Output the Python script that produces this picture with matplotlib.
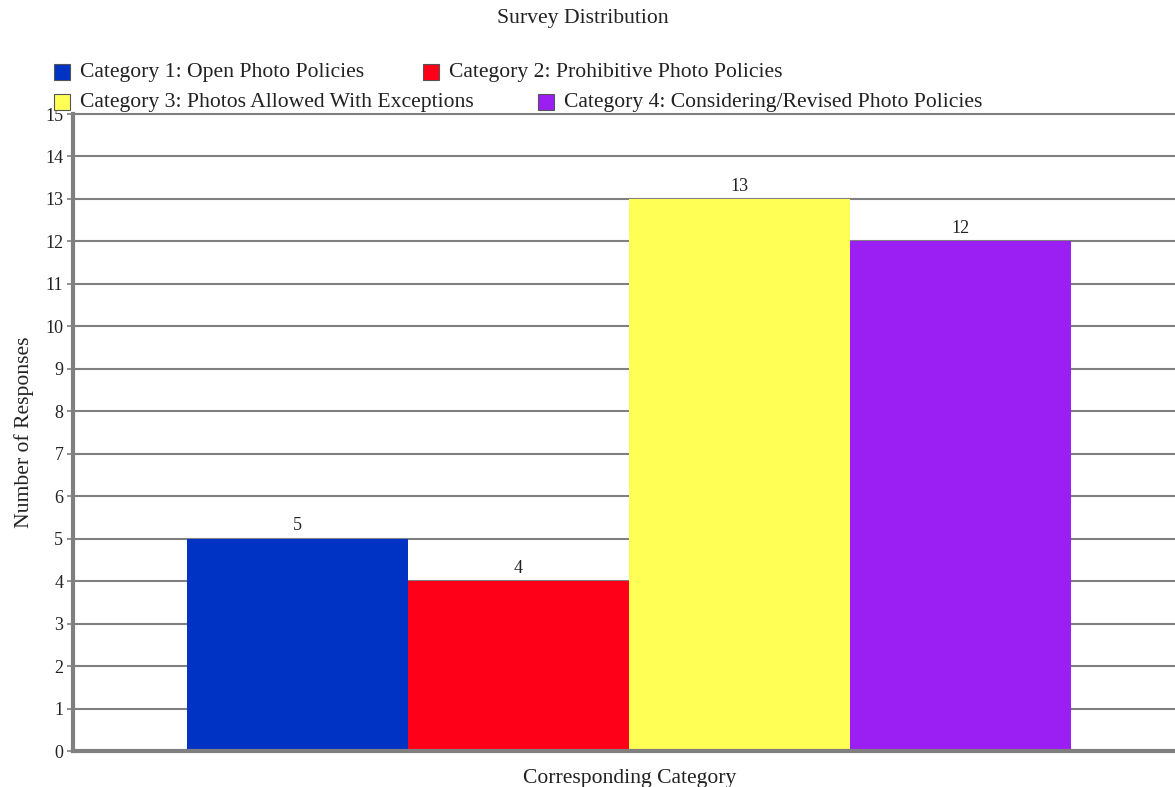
import matplotlib.pyplot as plt
from matplotlib.patches import Rectangle

# data
categories = ["Category 1: Open Photo Policies",
              "Category 2: Prohibitive Photo Policies",
              "Category 3: Photos Allowed With Exceptions",
              "Category 4: Considering/Revised Photo Policies"]
responses = [5, 4, 13, 12]
colors = ["#0033c4", "#ff0019", "#ffff55", "#9b1ff2"]
yticks = list(range(0, 16))

plt.rcParams["font.family"] = ["Liberation Serif", "DejaVu Serif"]
TXT = 15.6   # words
NUM = 13     # numbers
INK = "#222222"

W, H = 1175, 787
fig = plt.figure(figsize=(W / 100, H / 100), dpi=100)
ax = fig.add_axes([73 / W, 1 - 751 / H, 1 - 73 / W, (751 - 114) / H])

xs = range(len(responses))
bars = ax.bar(xs, responses, width=1.0, color=colors, zorder=2)
for x, v in zip(xs, responses):
    ax.text(x, v + 0.1, str(v), ha="center", va="bottom", fontsize=NUM, color=INK)

ax.set_xlim(-1.016, 3.97)
ax.set_ylim(0, 15)
ax.set_yticks(yticks)
ax.set_xticks([])
ax.yaxis.grid(True, color="#808080", linewidth=1.5, zorder=0)
for gl in ax.get_ygridlines():
    gl.set_clip_on(False)
ax.set_axisbelow(True)
ax.tick_params(axis="y", length=4, width=1.2, color="#808080", labelsize=NUM, pad=3, labelcolor=INK)
for s in ["top", "right"]:
    ax.spines[s].set_visible(False)
for s in ["left", "bottom"]:
    ax.spines[s].set_color("#808080")
    ax.spines[s].set_linewidth(3)

ax.set_ylabel("Number of Responses", fontsize=TXT, color=INK, va="center")
ax.yaxis.set_label_coords(-49 / 1102, 0.5)
ax.set_xlabel("Corresponding Category", fontsize=TXT, color=INK, va="center")
ax.xaxis.set_label_coords(0.505, -27 / 637)
fig.text(583 / W, 1 - 18 / H, "Survey Distribution", ha="center", va="center", fontsize=TXT, color=INK)

# legend, flow layout as in the original
leg_pos = [(54, 72), (423, 72), (54, 102), (538, 102)]
for (px, py), lab, c in zip(leg_pos, categories, colors):
    fig.patches.append(Rectangle((px / W, 1 - (py + 8) / H), 16 / W, 16 / H,
                                 transform=fig.transFigure, facecolor=c,
                                 edgecolor="#555555", linewidth=0.8))
    fig.text((px + 26) / W, 1 - py / H, lab, ha="left", va="center", fontsize=TXT, color=INK)

fig.savefig("out.png", dpi=100)
